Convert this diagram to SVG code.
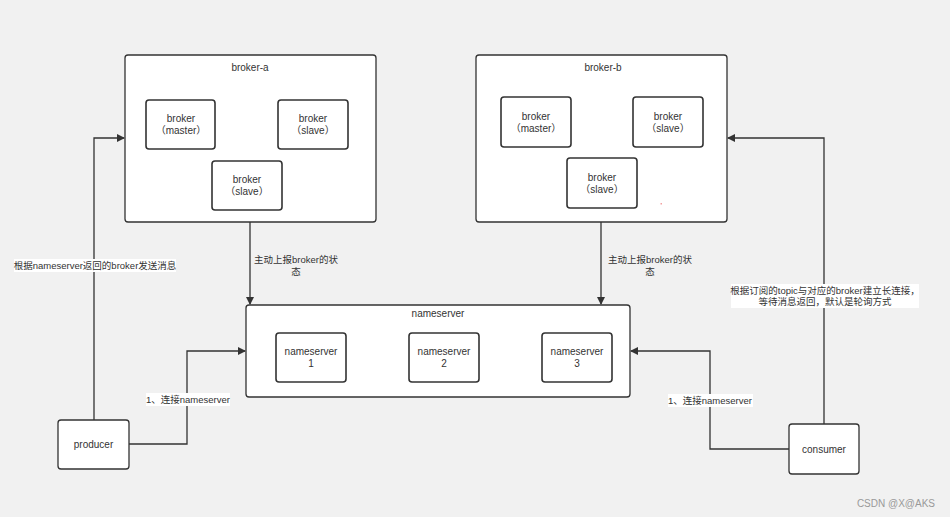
<svg xmlns="http://www.w3.org/2000/svg" width="950" height="517" viewBox="0 0 950 517">
<defs>
<marker id="arr" markerWidth="8" markerHeight="8" refX="7" refY="4" orient="auto" markerUnits="userSpaceOnUse">
<path d="M0,0 L8,4 L0,8 Z" fill="#333"/>
</marker>
<style>
.box{fill:#fff;stroke:#333;stroke-width:1.3}
.inner{fill:#fff;stroke:#333;stroke-width:1.6}
.t{font-family:"Liberation Sans","Noto Sans CJK SC",sans-serif;font-size:10px;fill:#333;text-anchor:middle}
.s{font-size:9.5px}
.c{fill:none;stroke:#333;stroke-width:1.3}
.lbg{fill:#fff}
</style>
</defs>
<rect width="950" height="517" fill="#f1f1f1"/>
<g id="broker-a">
<rect class="box" x="125" y="55" width="251" height="167" rx="3"/>
<text class="t" x="250" y="71">broker-a</text>
<g id="broker-a-master"><rect class="inner" x="146" y="100" width="69" height="49" rx="3"/><text class="t" x="181" y="122">broker</text><text class="t" x="181" y="134">（master）</text></g>
<g id="broker-a-slave1"><rect class="inner" x="278" y="100" width="70" height="49" rx="3"/><text class="t" x="313" y="122">broker</text><text class="t" x="313" y="134">（slave）</text></g>
<g id="broker-a-slave2"><rect class="inner" x="212" y="161" width="70" height="49" rx="3"/><text class="t" x="247" y="183">broker</text><text class="t" x="247" y="195">（slave）</text></g>
</g>
<g id="broker-b">
<rect class="box" x="476" y="55" width="251" height="167" rx="3"/>
<text class="t" x="603" y="71">broker-b</text>
<g id="broker-b-master"><rect class="inner" x="501" y="97" width="70" height="50" rx="3"/><text class="t" x="536" y="120">broker</text><text class="t" x="536" y="132">（master）</text></g>
<g id="broker-b-slave1"><rect class="inner" x="633" y="97" width="70" height="50" rx="3"/><text class="t" x="668" y="120">broker</text><text class="t" x="668" y="132">（slave）</text></g>
<g id="broker-b-slave2"><rect class="inner" x="567" y="158" width="70" height="50" rx="3"/><text class="t" x="602" y="181">broker</text><text class="t" x="602" y="193">（slave）</text></g>
<rect x="660.5" y="203" width="1.5" height="1.5" fill="#f4a0a0"/>
</g>
<g id="nameserver">
<rect class="box" x="246" y="305" width="384" height="92" rx="3"/>
<text class="t" x="438" y="317">nameserver</text>
<g id="ns1"><rect class="inner" x="276" y="333" width="70" height="49" rx="3"/><text class="t" x="311" y="355">nameserver</text><text class="t" x="311" y="367">1</text></g>
<g id="ns2"><rect class="inner" x="409" y="333" width="70" height="49" rx="3"/><text class="t" x="444" y="355">nameserver</text><text class="t" x="444" y="367">2</text></g>
<g id="ns3"><rect class="inner" x="542" y="333" width="70" height="49" rx="3"/><text class="t" x="577" y="355">nameserver</text><text class="t" x="577" y="367">3</text></g>
</g>
<g id="producer">
<rect class="box" x="58" y="420" width="71" height="49" rx="3"/>
<text class="t" x="93.5" y="448">producer</text>
</g>
<g id="consumer">
<rect class="box" x="789" y="424" width="70" height="50" rx="3"/>
<text class="t" x="824" y="453">consumer</text>
</g>
<g id="connectors">
<path class="c" d="M94,420 V138 H124" marker-end="url(#arr)"/>
<path class="c" d="M129,444 H187 V351 H245" marker-end="url(#arr)"/>
<path class="c" d="M250,222 V304" marker-end="url(#arr)"/>
<path class="c" d="M601,222 V304" marker-end="url(#arr)"/>
<path class="c" d="M824,424 V138 H728" marker-end="url(#arr)"/>
<path class="c" d="M789,449 H710 V351 H631" marker-end="url(#arr)"/>
<rect class="lbg" x="14" y="259" width="162" height="13"/>
<text class="t s" x="95" y="269">根据nameserver返回的broker发送消息</text>
<rect class="lbg" x="146" y="393" width="84" height="13"/>
<text class="t s" x="188" y="403">1、连接nameserver</text>
<rect class="lbg" x="668" y="394" width="85" height="13"/>
<text class="t s" x="710" y="404">1、连接nameserver</text>
<text class="t s" x="296" y="263">主动上报broker的状</text>
<text class="t s" x="296" y="275">态</text>
<text class="t s" x="650" y="263">主动上报broker的状</text>
<text class="t s" x="650" y="275">态</text>
<rect class="lbg" x="731" y="284" width="188" height="24"/>
<text class="t s" x="825" y="294">根据订阅的topic与对应的broker建立长连接，</text>
<text class="t s" x="825" y="305">等待消息返回，默认是轮询方式</text>
</g>
<text x="935" y="507" style="font-family:'Liberation Sans',sans-serif;font-size:10px;fill:#999;text-anchor:end">CSDN @X@AKS</text>
</svg>
